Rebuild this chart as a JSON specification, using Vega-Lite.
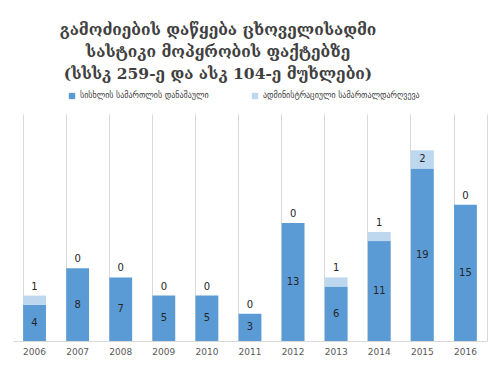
{
  "$schema": "https://vega.github.io/schema/vega-lite/v6.json",
  "width": 474,
  "height": 227,
  "autosize": {"type": "none"},
  "padding": {"left": 13, "top": 114, "right": 13, "bottom": 28},
  "background": "white",
  "title": {
    "text": ["გამოძიების დაწყება ცხოველისადმი", "სასტიკი მოპყრობის ფაქტებზე", "(სსსკ 259-ე და ასკ 104-ე მუხლები)"],
    "font": "DejaVu Serif",
    "fontSize": 15.5,
    "fontWeight": "bold",
    "lineHeight": 22,
    "color": "#404040",
    "anchor": "middle",
    "frame": "group",
    "dx": -32,
    "offset": 10
  },
  "data": {
    "values": [
      {"year": "2006", "series": "სისხლის სამართლის დანაშაული", "value": 4},
      {"year": "2006", "series": "ადმინისტრაციული სამართალდარღვევა", "value": 1},
      {"year": "2007", "series": "სისხლის სამართლის დანაშაული", "value": 8},
      {"year": "2007", "series": "ადმინისტრაციული სამართალდარღვევა", "value": 0},
      {"year": "2008", "series": "სისხლის სამართლის დანაშაული", "value": 7},
      {"year": "2008", "series": "ადმინისტრაციული სამართალდარღვევა", "value": 0},
      {"year": "2009", "series": "სისხლის სამართლის დანაშაული", "value": 5},
      {"year": "2009", "series": "ადმინისტრაციული სამართალდარღვევა", "value": 0},
      {"year": "2010", "series": "სისხლის სამართლის დანაშაული", "value": 5},
      {"year": "2010", "series": "ადმინისტრაციული სამართალდარღვევა", "value": 0},
      {"year": "2011", "series": "სისხლის სამართლის დანაშაული", "value": 3},
      {"year": "2011", "series": "ადმინისტრაციული სამართალდარღვევა", "value": 0},
      {"year": "2012", "series": "სისხლის სამართლის დანაშაული", "value": 13},
      {"year": "2012", "series": "ადმინისტრაციული სამართალდარღვევა", "value": 0},
      {"year": "2013", "series": "სისხლის სამართლის დანაშაული", "value": 6},
      {"year": "2013", "series": "ადმინისტრაციული სამართალდარღვევა", "value": 1},
      {"year": "2014", "series": "სისხლის სამართლის დანაშაული", "value": 11},
      {"year": "2014", "series": "ადმინისტრაციული სამართალდარღვევა", "value": 1},
      {"year": "2015", "series": "სისხლის სამართლის დანაშაული", "value": 19},
      {"year": "2015", "series": "ადმინისტრაციული სამართალდარღვევა", "value": 2},
      {"year": "2016", "series": "სისხლის სამართლის დანაშაული", "value": 15},
      {"year": "2016", "series": "ადმინისტრაციული სამართალდარღვევა", "value": 0}
    ]
  },
  "transform": [
    {"stack": "value", "groupby": ["year"], "sort": [{"field": "series", "order": "descending"}], "as": ["v0", "v1"]},
    {"calculate": "(datum.v0 + datum.v1) / 2", "as": "vmid"}
  ],
  "encoding": {
    "x": {
      "field": "year",
      "type": "nominal",
      "scale": {"paddingInner": 0.47, "paddingOuter": 0.235},
      "axis": {
        "title": null,
        "labelAngle": 0,
        "labelFont": "DejaVu Sans",
        "labelFontSize": 9,
        "labelColor": "#595959",
        "labelPadding": 6,
        "ticks": false,
        "domainColor": "#d9d9d9",
        "grid": true,
        "gridColor": "#d9d9d9",
        "bandPosition": 0
      }
    }
  },
  "layer": [
    {
      "mark": {"type": "bar"},
      "encoding": {
        "y": {
          "field": "v0",
          "type": "quantitative",
          "scale": {"domain": [0, 25], "nice": false},
          "axis": {"title": null, "orient": "right", "labels": false, "ticks": false, "grid": false, "domain": true, "domainColor": "#d9d9d9"}
        },
        "y2": {"field": "v1"},
        "color": {
          "field": "series",
          "type": "nominal",
          "scale": {
            "domain": ["სისხლის სამართლის დანაშაული", "ადმინისტრაციული სამართალდარღვევა"],
            "range": ["#5B9BD5", "#BDD7EE"]
          },
          "legend": {
            "title": null,
            "orient": "none",
            "legendX": 55,
            "legendY": -22,
            "direction": "horizontal",
            "symbolType": "square",
            "symbolSize": 40,
            "symbolStrokeWidth": 0,
            "labelFont": "DejaVu Sans",
            "labelFontSize": 8,
            "labelColor": "#404040",
            "labelLimit": 300,
            "columnPadding": 42
          }
        }
      }
    },
    {
      "transform": [{"filter": "datum.series == 'სისხლის სამართლის დანაშაული'"}],
      "mark": {"type": "text", "font": "DejaVu Sans", "fontSize": 10, "color": "#262626"},
      "encoding": {
        "y": {"field": "vmid", "type": "quantitative"},
        "text": {"field": "value", "type": "quantitative"}
      }
    },
    {
      "transform": [{"filter": "datum.series == 'ადმინისტრაციული სამართალდარღვევა' && datum.value < 2"}],
      "mark": {"type": "text", "font": "DejaVu Sans", "fontSize": 10, "color": "#262626", "baseline": "bottom", "dy": -4},
      "encoding": {
        "y": {"field": "v1", "type": "quantitative"},
        "text": {"field": "value", "type": "quantitative"}
      }
    },
    {
      "transform": [{"filter": "datum.series == 'ადმინისტრაციული სამართალდარღვევა' && datum.value >= 2"}],
      "mark": {"type": "text", "font": "DejaVu Sans", "fontSize": 10, "color": "#262626"},
      "encoding": {
        "y": {"field": "vmid", "type": "quantitative"},
        "text": {"field": "value", "type": "quantitative"}
      }
    }
  ],
  "config": {"view": {"stroke": null}}
}
